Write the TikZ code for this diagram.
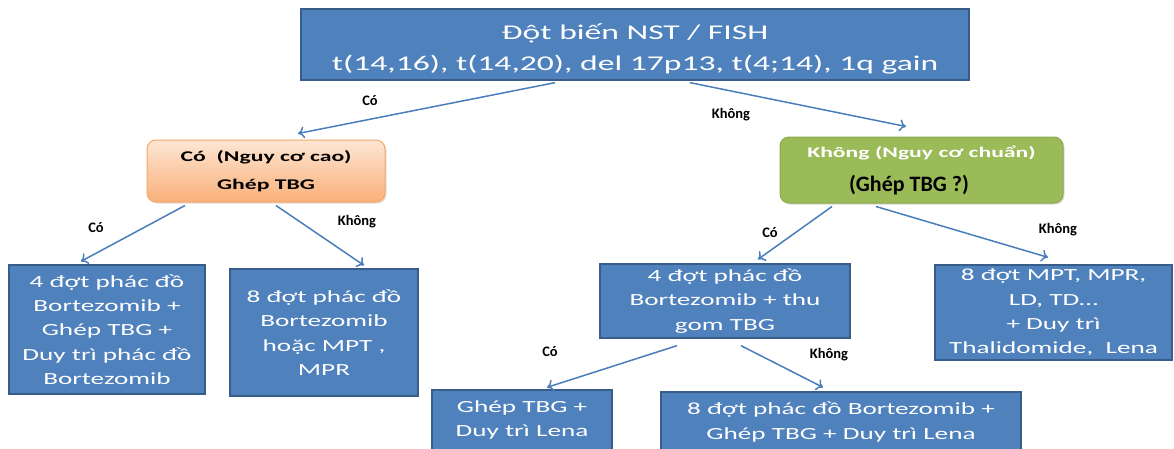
\documentclass[tikz,border=0pt]{standalone}
\usepackage{fontspec}
\setmainfont{Carlito}
\newfontfamily\wide{Carlito}[FakeStretch=1.6]
\usetikzlibrary{calc,shadows,arrows.meta}
\definecolor{boxblue}{HTML}{4F81BD}
\definecolor{boxedge}{HTML}{385D8A}
\definecolor{arrowblue}{HTML}{4A7EBB}
\definecolor{orangetop}{HTML}{FDE6D3}
\definecolor{orangebot}{HTML}{F9B07A}
\definecolor{orangeedge}{HTML}{F5A866}
\definecolor{leafgreen}{HTML}{9BBB59}
\definecolor{leafedge}{HTML}{8AAA4A}
\tikzset{
  bluebox/.style={draw=boxedge, line width=1.3pt, fill=boxblue, text=white,
    align=center, inner sep=0pt, font=\wide\fontsize{17}{24.3}\selectfont},
  riskbox/.style={rounded corners=9pt, align=center, inner sep=0pt},
  link/.style={draw=arrowblue, line width=1.5pt, -{To[length=6.5pt,width=12pt]}},
  answer/.style={font=\bfseries\fontsize{14.5}{16}\selectfont, text=black}
}
\begin{document}
\begin{tikzpicture}[x=1pt,y=-1pt]
\clip (0,0) rectangle (1174,448);
\useasboundingbox (0,0) rectangle (1174,448);

% root: cytogenetic findings
\node[bluebox, minimum width=668pt, minimum height=71pt,
      font=\wide\fontsize{21}{31}\selectfont] (top) at (635,44.5)
  {\rule{0pt}{24pt}Đột biến NST / FISH\\t(14,16), t(14,20), del 17p13, t(4;14), 1q gain};

% risk groups
\node[riskbox, draw=orangeedge, line width=1pt, top color=orangetop, bottom color=orangebot,
      minimum width=238pt, minimum height=62pt, drop shadow={opacity=0.25,shadow xshift=1.5pt,shadow yshift=-1.5pt},
      font=\wide\bfseries\fontsize{14.8}{28}\selectfont] (org) at (266,171)
  {Có\ \ (Nguy cơ cao)\\Ghép TBG};
\node[riskbox, draw=leafedge, line width=1pt, fill=leafgreen,
      minimum width=283pt, minimum height=66pt, drop shadow={opacity=0.3,shadow xshift=1.5pt,shadow yshift=-1.5pt}] (grn) at (921.5,170) {};
\node[font=\wide\bfseries\fontsize{14.8}{16}\selectfont, text=white] (grnA) at (921.5,153) {Không (Nguy cơ chuẩn)};
\node[font=\bfseries\fontsize{22}{24}\selectfont, text=black] (grnB) at (909,185) {(Ghép TBG ?)};

% treatment boxes
\node[bluebox, minimum width=196pt, minimum height=129pt] (L1) at (107,329.5)
  {4 đợt phác đồ\\Bortezomib +\\Ghép TBG +\\Duy trì phác đồ\\Bortezomib};
\node[bluebox, minimum width=188pt, minimum height=127pt] (L2) at (324,332.5)
  {8 đợt phác đồ\\Bortezomib\\hoặc MPT ,\\MPR};
\node[bluebox, minimum width=250pt, minimum height=74pt] (M) at (725,301)
  {4 đợt phác đồ\\Bortezomib + thu\\gom TBG};
\node[bluebox, minimum width=237pt, minimum height=95pt] (R) at (1053.5,312.5)
  {8 đợt MPT, MPR,\\LD, TD…\\+ Duy trì\\Thalidomide,\ \ Lena};
\node[bluebox, minimum width=180pt, minimum height=60pt] (BL) at (522,420)
  {Ghép TBG +\\Duy trì Lena};
\node[bluebox, minimum width=360pt, minimum height=60pt] (BR) at (841,422)
  {8 đợt phác đồ Bortezomib +\\Ghép TBG + Duy trì Lena};

% decision arrows
\draw[link] ($(top.south)+(-80,2)$) -- ($(org.north)+(32,-6)$);
\draw[link] ($(top.south)+(55,2)$) -- ($(grn.north)+(-15.5,-10)$);
\draw[link] ($(org.south)+(-81,3)$) -- ($(L1.north)+(-26,-3)$);
\draw[link] ($(org.south)+(10,3)$) -- ($(L2.north)+(40,-3)$);
\draw[link] ($(grn.south)+(-89.5,3)$) -- ($(M.north)+(33,-4)$);
\draw[link] ($(grn.south)+(-45.5,3)$) -- ($(R.north)+(-5.5,-7)$);
\draw[link] ($(M.south)+(-48,7)$) -- ($(BL.north)+(25,-2)$);
\draw[link] ($(M.south)+(16,7)$) -- ($(BR.north)+(-18,-4)$);

% answers
\node[answer] (c1) at (370,101) {Có};
\node[answer] (k1) at (731,115) {Không};
\node[answer] (c2) at (96,228) {Có};
\node[answer] (k2) at (357,222) {Không};
\node[answer] (c3) at (770,233) {Có};
\node[answer] (k3) at (1058,230) {Không};
\node[answer] (c4) at (550,352) {Có};
\node[answer] (k4) at (829,355) {Không};
\end{tikzpicture}
\end{document}
